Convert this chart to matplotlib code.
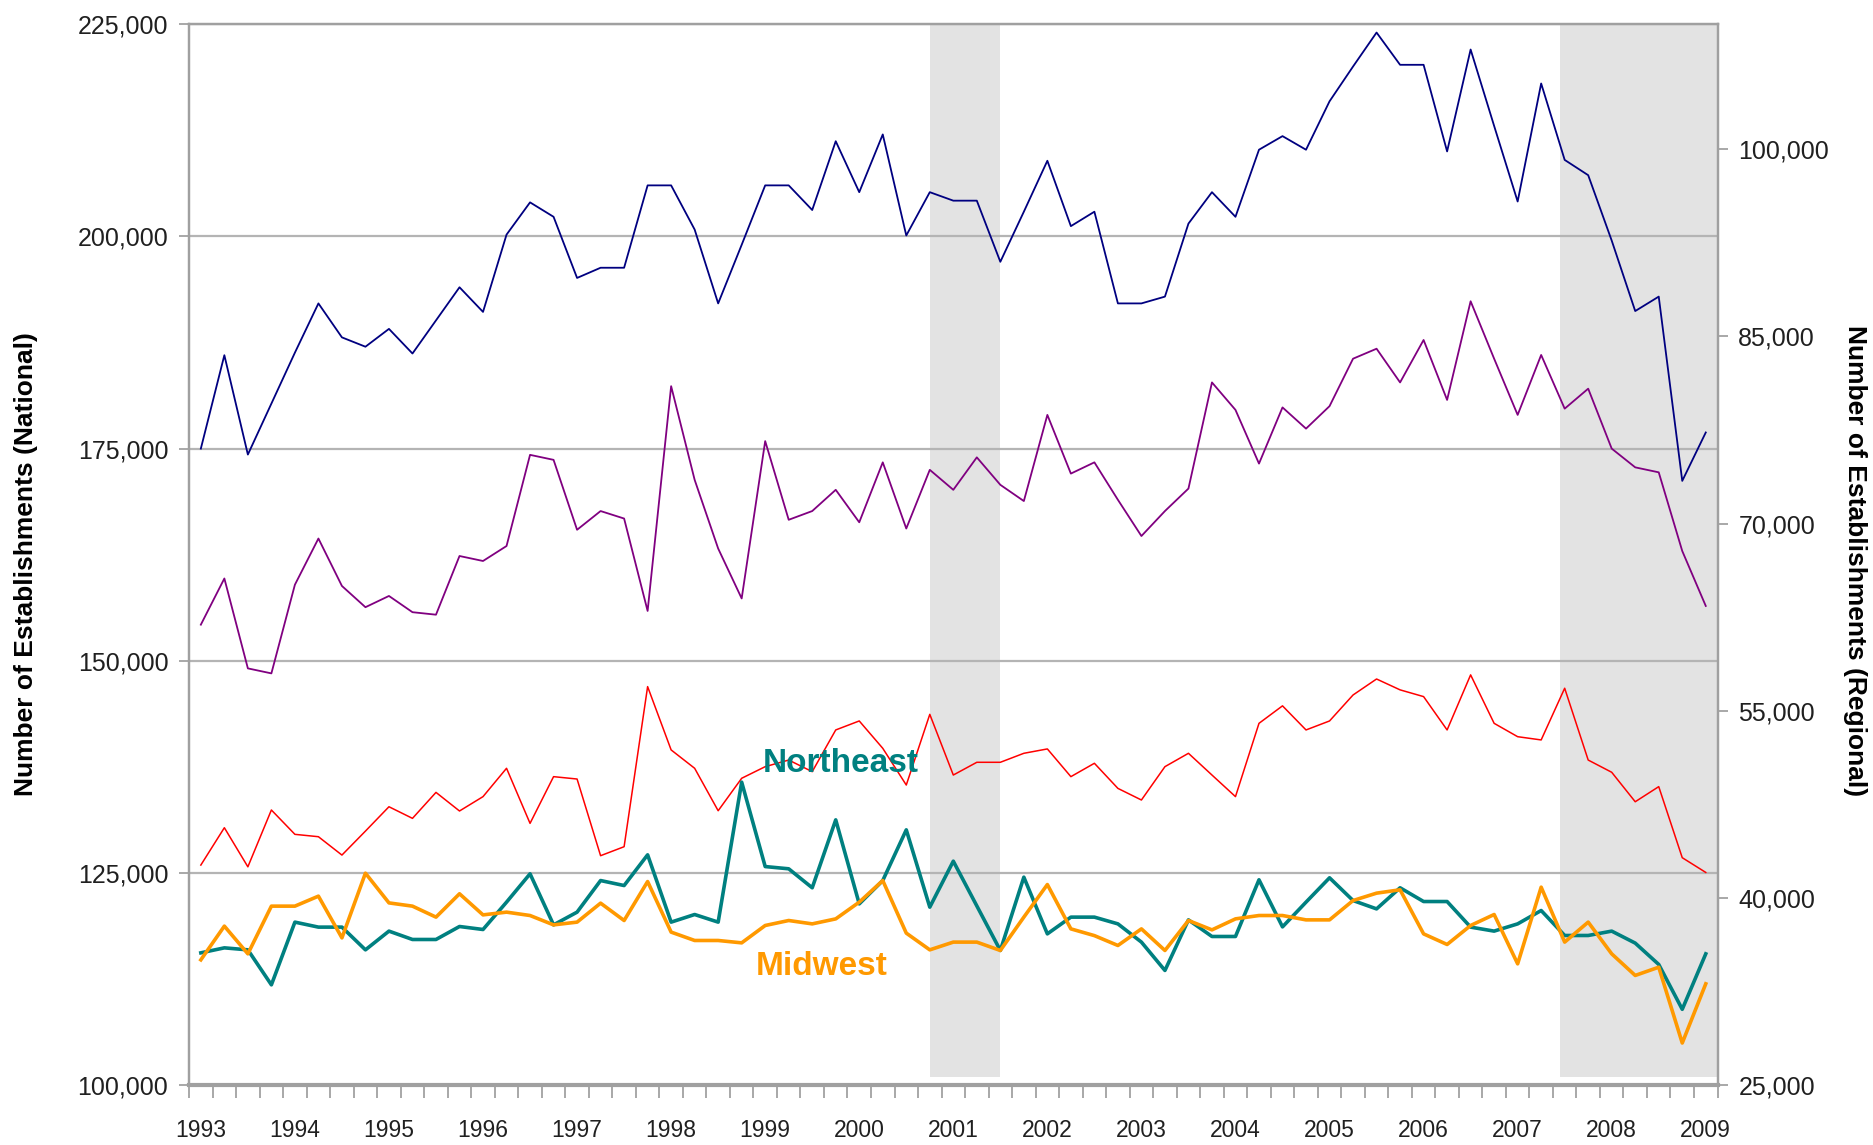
import numpy as np
import matplotlib
matplotlib.use("Agg")
import matplotlib.pyplot as plt
from matplotlib.ticker import FuncFormatter, FixedLocator

# Quarterly establishment counts, 1993 Q1 - 2009 Q1
years = list(range(1993, 2010))

national = [175000, 186000, 174300, 180300, 186300, 192100, 188100, 187000, 189100, 186200,
            190100, 194000, 191100, 200200, 204000, 202300, 195100, 196300, 196300, 206000,
            206000, 200800, 192100, 199000, 206000, 206000, 203100, 211200, 205200, 212000,
            200100, 205200, 204200, 204200, 197000, 202900, 208900, 201200, 202900, 192100,
            192100, 192900, 201500, 205200, 202300, 210200, 211800, 210200, 215900, 220000,
            224000, 220200, 220200, 210000, 222000, 213000, 204100, 218000, 209000, 207200,
            199500, 191200, 192900, 171200, 176900]

south = [61900, 65600, 58400, 58000, 65100, 68800, 65000, 63300, 64200, 62900,
         62700, 67400, 67000, 68200, 75500, 75100, 69500, 71000, 70400, 63000,
         81000, 73500, 68000, 64000, 76600, 70300, 71000, 72700, 70100, 74900,
         69600, 74300, 72700, 75300, 73100, 71800, 78700, 74000, 74900, 71900,
         69000, 71000, 72800, 81300, 79100, 74800, 79300, 77600, 79400, 83200,
         84000, 81300, 84700, 79900, 87800, 83200, 78700, 83500, 79200, 80800,
         76000, 74500, 74100, 67800, 63400]

west = [42650, 45640, 42510, 47060, 45110, 44920, 43450, 45370, 47320, 46390,
        48470, 46980, 48130, 50400, 45990, 49730, 49540, 43400, 44120, 56940,
        51870, 50400, 47000, 49600, 50530, 51060, 50130, 53470, 54190, 52000,
        49060, 54720, 49860, 50880, 50880, 51600, 51950, 49730, 50800, 48790,
        47860, 50530, 51600, 49860, 48130, 54000, 55400, 53470, 54190, 56270,
        57550, 56680, 56140, 53470, 57880, 54000, 52930, 52670, 56810, 51060,
        50080, 47720, 48930, 43240, 42060]

northeast = [35620, 36020, 35860, 33060, 38080, 37680, 37680, 35860, 37360, 36690,
             36690, 37730, 37490, 39680, 41950, 37860, 38880, 41410, 41010, 43470,
             38080, 38690, 38080, 49290, 42530, 42350, 40830, 46270, 39540, 41410,
             45470, 39280, 42960, 39380, 35810, 41680, 37140, 38480, 38480, 37940,
             36480, 34210, 38260, 36930, 36930, 41470, 37700, 39680, 41630, 39810,
             39140, 40830, 39730, 39730, 37680, 37360, 37940, 39010, 37010, 37010,
             37360, 36400, 34690, 31100, 35540]

midwest = [35060, 37760, 35540, 39360, 39360, 40160, 36820, 42000, 39620, 39360,
           38480, 40350, 38660, 38880, 38610, 37860, 38080, 39600, 38210, 41330,
           37280, 36610, 36610, 36420, 37810, 38210, 37940, 38340, 39680, 41410,
           37200, 35860, 36480, 36480, 35810, 38480, 41090, 37540, 37000, 36210,
           37540, 35810, 38210, 37460, 38340, 38610, 38610, 38260, 38260, 39810,
           40400, 40670, 37140, 36290, 37810, 38690, 34740, 40880, 36480, 38080,
           35540, 33810, 34470, 28400, 33140]

# recession periods, as quarter indices (start, end)
recessions = [(31, 34), (57.8, 64.5)]

FONT = "Liberation Sans"
GRID = "#b4b4b4"


def thousands(v, _):
    return f"{int(v):,}"


def main():
    x = np.arange(len(national))

    fig = plt.figure(figsize=(18.74, 11.45), dpi=100)
    ax = fig.add_axes([0.1009, 0.052, 0.8156, 0.927])
    ax2 = ax.twinx()

    for start, end in recessions:
        ax.axvspan(start, end, ymin=0.008, ymax=1.0, color="#e3e3e3", lw=0, zorder=0)

    ax.plot(x, national, color="#000080", lw=1.3, zorder=3)
    ax2.plot(x, south, color="#800080", lw=1.3)
    ax2.plot(x, west, color="#ff0000", lw=1.1)
    ax2.plot(x, northeast, color="#008080", lw=2.6)
    ax2.plot(x, midwest, color="#ff9900", lw=2.6)

    ax.set_xlim(-0.5, len(national) - 0.5)
    ax.set_ylim(100000, 225000)
    ax2.set_ylim(25000, 110000)

    ax.set_yticks(np.arange(100000, 225001, 25000))
    ax2.set_yticks(np.arange(25000, 100001, 15000))
    ax.yaxis.set_major_formatter(FuncFormatter(thousands))
    ax2.yaxis.set_major_formatter(FuncFormatter(thousands))

    ax.set_axisbelow(True)
    ax.yaxis.grid(True, color=GRID, lw=1.6)

    ax.xaxis.set_major_locator(FixedLocator(x[::4]))
    ax.set_xticklabels([str(y) for y in years])
    ax.xaxis.set_minor_locator(FixedLocator(np.arange(-0.5, len(national), 1.0)))
    ax.tick_params(axis="x", which="major", length=0, pad=24, labelsize=16.5)
    ax.tick_params(axis="x", which="minor", length=9, width=1.2, color="#9a9a9a", direction="out")
    ax.tick_params(axis="y", length=7, width=1.2, color="#9a9a9a", labelsize=18, pad=8)
    ax2.tick_params(axis="y", length=7, width=1.2, color="#9a9a9a", labelsize=18, pad=8)

    for a in (ax, ax2):
        for s in a.spines.values():
            s.set_color("#a0a0a0")
            s.set_linewidth(1.6)
        for lab in a.get_xticklabels() + a.get_yticklabels():
            lab.set_fontfamily(FONT)
            lab.set_color("#202020")
    ax.spines["bottom"].set_linewidth(3)

    fig.text(0.014, 0.507, "Number of Establishments (National)", rotation=90,
             ha="center", va="center", fontsize=19, fontweight="bold", family=FONT)
    fig.text(0.990, 0.510, "Number of Establishments (Regional)", rotation=270,
             ha="center", va="center", fontsize=19, fontweight="bold", family=FONT)

    ax2.text(27.2, 50800, "Northeast", color="#008080", fontsize=24, fontweight="bold",
             ha="center", va="center", family=FONT)
    ax2.text(26.4, 34500, "Midwest", color="#ff9900", fontsize=24, fontweight="bold",
             ha="center", va="center", family=FONT)

    fig.savefig("out.png", dpi=100)
    plt.close(fig)
    return 0


if __name__ == "__main__":
    main()
